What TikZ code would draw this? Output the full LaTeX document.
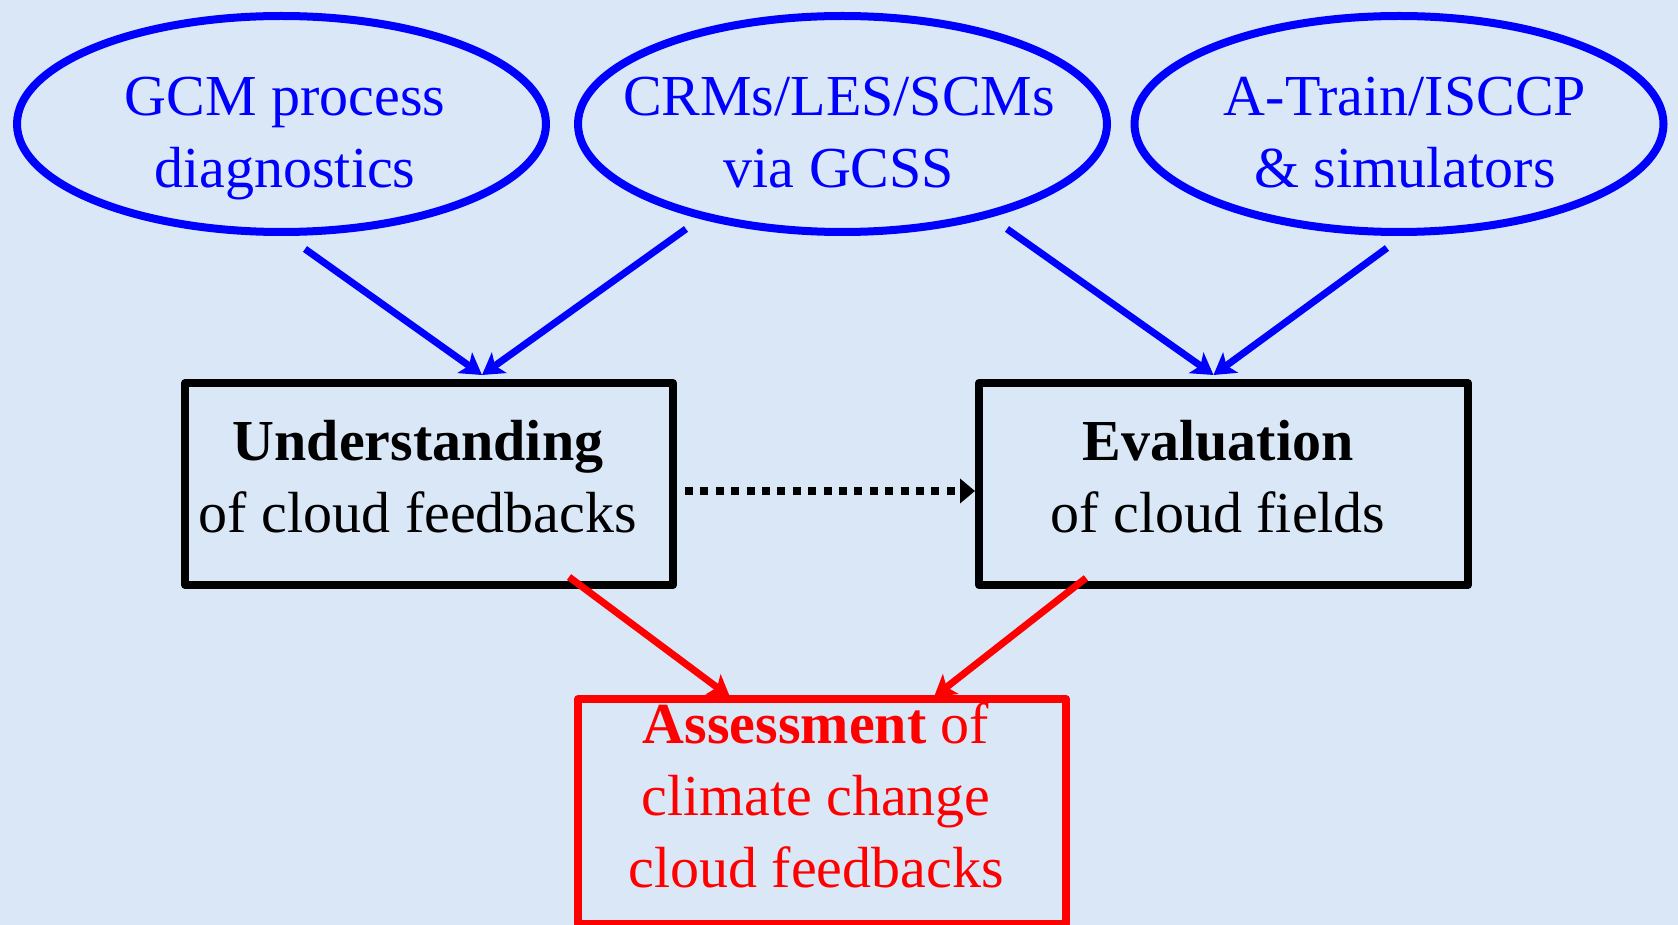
\documentclass[tikz,border=0pt]{standalone}
\usepackage{fontspec}
\setmainfont{Liberation Serif}
\usepackage{tikz}
\usetikzlibrary{shapes.geometric, arrows.meta, calc}
\definecolor{paper}{RGB}{218,231,247}

\begin{document}
\begin{tikzpicture}[x=0.5pt, y=-0.5pt,
        src/.style={ellipse, draw=blue, line width=4pt, minimum width=264.5pt, minimum height=108pt, inner sep=0pt},
        srctext/.style={blue, anchor=north, align=center, inner sep=0pt, font=\fontsize{29}{36}\selectfont},
        stage/.style={rectangle, draw=black, line width=4pt, line join=round, minimum width=244pt, minimum height=101pt, inner sep=0pt},
        stagetext/.style={anchor=north, align=center, inner sep=0pt, font=\fontsize{29}{36}\selectfont},
        bluearrow/.style={draw=blue, line width=3.5pt, -{Stealth[length=10.5pt, width=12.5pt, inset=2.5pt]}},
        redarrow/.style={draw=red, line width=3.5pt, -{Stealth[length=10.5pt, width=12.5pt, inset=2.5pt]}},
        dotarrow/.style={draw=black, line width=4pt, dash pattern=on 4pt off 3.7pt, -{Triangle[length=7.5pt, width=12pt]}}]
        \path[use as bounding box, fill=paper] (0,0) rectangle (1678,925);

        \node[src] (gcm) at (281.5,124) {};
        \node[src] (crm) at (842.5,124) {};
        \node[src] (obs) at (1399,124) {};
        \node[srctext] (gcm-t) at (285,77) {GCM process\\diagnostics};
        \node[srctext] (crm-t) at (839,77) {CRMs/LES/SCMs\\via GCSS};
        \node[srctext] (obs-t) at (1405,77) {A-Train/ISCCP\\\& simulators};

        \node[stage] (und) at (429,484) {};
        \node[stage, minimum width=244.5pt] (eva) at (1223.5,484) {};
        \node[stage, draw=red, minimum height=112.25pt] (ass) at (822,811.25) {};
        \node[stagetext] (und-t) at (418,420) {\textbf{Understanding}\\of cloud feedbacks};
        \node[stagetext] (eva-t) at (1218,420) {\textbf{Evaluation}\\of cloud fields};
        \node[stagetext, red] (ass-t) at (816,702) {\textbf{Assessment} of\\climate change\\cloud feedbacks};

        \coordinate (gcm-out) at ($(gcm)+(23.5,125)$);
        \coordinate (crm-out1) at ($(crm)+(-156.5,105)$);
        \coordinate (crm-out2) at ($(crm)+(164.5,105)$);
        \coordinate (obs-out) at ($(obs)+(-12,124)$);
        \coordinate (und-in) at ($(und.north)+(53,-4)$);
        \coordinate (eva-in) at ($(eva.north)+(-10,-4)$);
        \draw[bluearrow] (gcm-out) -- (und-in);
        \draw[bluearrow] (crm-out1) -- (und-in);
        \draw[bluearrow] (crm-out2) -- (eva-in);
        \draw[bluearrow] (obs-out) -- (eva-in);

        \coordinate (und-out) at ($(und)+(140,93)$);
        \coordinate (eva-out) at ($(eva)+(-137.5,94)$);
        \coordinate (ass-in1) at ($(ass.north)+(-92,2)$);
        \coordinate (ass-in2) at ($(ass.north)+(112,2)$);
        \draw[redarrow] (und-out) -- (ass-in1);
        \draw[redarrow] (eva-out) -- (ass-in2);

        \coordinate (und-side) at ($(und.east)+(8,7)$);
        \coordinate (eva-side) at ($(eva.west)+(0,7)$);
        \draw[dotarrow] (und-side) -- (eva-side);
    \end{tikzpicture}
\end{document}
